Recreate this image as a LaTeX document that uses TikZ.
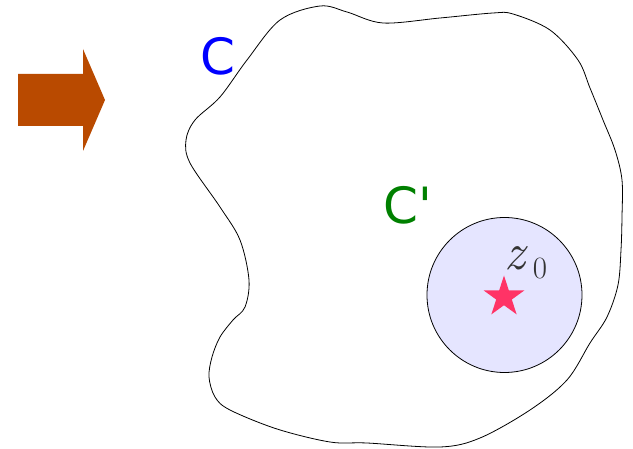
\documentclass[tikz,border=0pt]{standalone}
\usepackage{fontspec}
\setsansfont{DejaVu Sans}
\usepackage{tikz}
\definecolor{arrowbrown}{RGB}{185,74,0}
\definecolor{disklav}{RGB}{229,229,255}
\definecolor{starpink}{RGB}{255,51,102}
\definecolor{labgreen}{RGB}{0,128,0}
\usetikzlibrary{shapes.geometric}

\begin{document}
\begin{tikzpicture}[x=1pt,y=-1pt,
    curvelabel/.style={font=\sffamily\fontsize{50}{50}\selectfont,inner sep=0pt}]
                \useasboundingbox (0,0) rectangle (633,449);
                \fill[arrowbrown] (18,74) -- (83,74) -- (83,49) -- (105,100) -- (83,151) -- (83,126) -- (18,126) -- cycle;

                \draw[line width=0.8pt] plot[smooth cycle,tension=0.55] coordinates {
                    (280,20) (320,6) (347,12) (383,23) (440,18) (493,13) (513,14)
                    (550,30) (578,60) (590,88) (603,120) (615,150) (622,180)
                    (622,217) (621,250) (618,285) (607,317) (590,343) (567,380)
                    (530,410) (480,438) (440,447) (367,443) (330,442) (277,429)
                    (230,410) (215,397) (209,377) (212,357) (220,337) (233,320)
                    (245,307) (249,280) (240,240)
                    (220,207) (190,163) (186,140) (195,120) (220,97) (247,60)};

                \node[circle,draw,line width=0.8pt,fill=disklav,minimum size=155pt,inner sep=0pt] (disk) at (504.5,295) {};
                \node[star,star points=5,star point ratio=2.618,fill=starpink,minimum size=43pt,inner sep=0pt] (zstar) at (504,297) {};

                \node[curvelabel,text=blue] (C) at (218,56.5) {C};
                \node[curvelabel,text=labgreen] (Cp) at (408,205) {C\textquotesingle};
                \node[inner sep=0pt,anchor=base west,text=black!80,font=\fontsize{52}{52}\selectfont] (z) at (504,270) {\textit{z}\hspace{5pt}\raisebox{-9pt}{\fontsize{31}{31}\selectfont 0}};
            \end{tikzpicture}
\end{document}
